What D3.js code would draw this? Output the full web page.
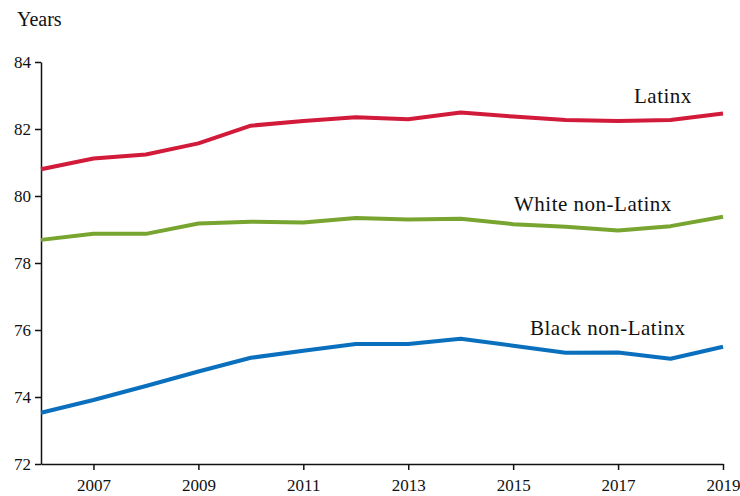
<!DOCTYPE html>
<html><head><meta charset="utf-8">
<script src="https://cdn.jsdelivr.net/npm/d3@7"></script>
<style>
html,body{margin:0;padding:0;background:#fff;}
text{font-family:"Liberation Serif","Times New Roman",serif;fill:#111;}
</style></head>
<body><svg id="c" width="740" height="496"></svg>
<script>
const years = [2006,2007,2008,2009,2010,2011,2012,2013,2014,2015,2016,2017,2018,2019];
const latinx = [80.80,81.12,81.24,81.57,82.10,82.24,82.35,82.29,82.49,82.37,82.27,82.24,82.27,82.46];
const white = [78.69,78.87,78.87,79.18,79.23,79.21,79.34,79.30,79.32,79.16,79.08,78.97,79.10,79.38];
const black = [73.53,73.91,74.33,74.76,75.17,75.38,75.58,75.58,75.74,75.53,75.32,75.33,75.14,75.50];
const xTicks = [2007,2009,2011,2013,2015,2017,2019];
const yTicks = [72,74,76,78,80,82,84];
const seriesNames = ["Latinx","White non-Latinx","Black non-Latinx"];
const seriesColors = ["#D21A3A","#78A430","#0A70BE"];
const labelPos = [[634,103],[514,211],[530,335]]; // label anchor (px)

const svg = d3.select("#c");
const x = d3.scaleLinear().domain([2006,2019]).range([41,723]);
const y = d3.scaleLinear().domain([72,84]).range([464,62]);

const xAxis = svg.append("g").attr("transform","translate(0,464)")
  .call(d3.axisBottom(x).tickValues(xTicks).tickFormat(d3.format("d")).tickSize(6).tickSizeOuter(0));
const yAxis = svg.append("g").attr("transform","translate(41,0)")
  .call(d3.axisLeft(y).tickValues(yTicks).tickSize(6).tickSizeOuter(0));
[xAxis,yAxis].forEach(g=>{
  g.selectAll("path,line").attr("stroke","#111").attr("stroke-width",1.5);
  g.selectAll("text").style("font-size","17px").attr("fill","#111");
});
xAxis.selectAll("text").attr("dy","1.05em");
yAxis.selectAll("text").attr("x",-10);

svg.append("text").attr("x",17).attr("y",26).style("font-size","20px").text("Years");

const line = d3.line().x((d,i)=>x(years[i])).y(d=>y(d));
[latinx,white,black].forEach((s,k)=>{
  svg.append("path").datum(s).attr("d",line).attr("fill","none")
    .attr("stroke",seriesColors[k]).attr("stroke-width",4).attr("stroke-linejoin","round");
  svg.append("text").attr("x",labelPos[k][0]).attr("y",labelPos[k][1])
    .style("font-size","21px").style("letter-spacing","0.5px").text(seriesNames[k]);
});
</script></body></html>
